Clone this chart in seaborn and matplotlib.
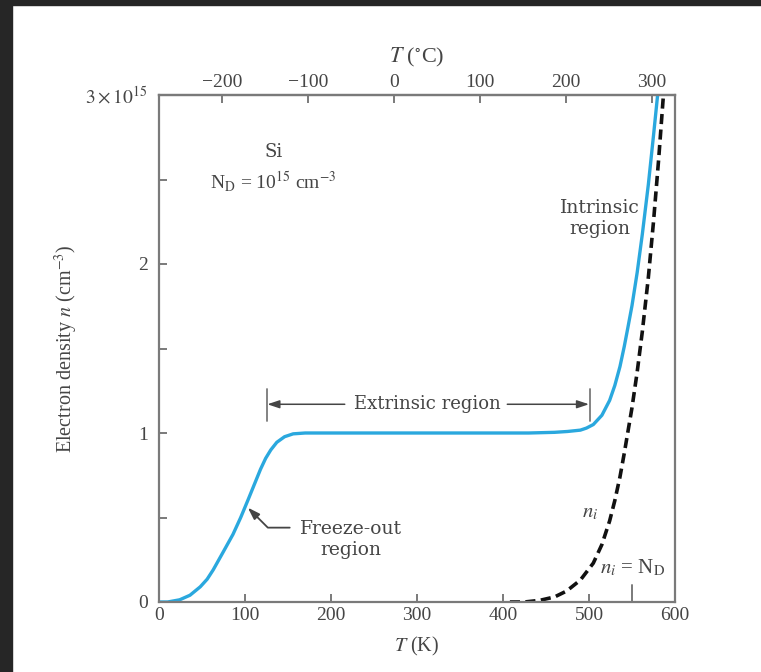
import matplotlib
matplotlib.use("Agg")
import matplotlib.pyplot as plt
from matplotlib.patches import Rectangle
import pandas as pd
import seaborn as sns

# --- data (n in units of 1e15 cm^-3, T in K) ---
t_blue = [0, 10, 24, 36, 48, 56, 63, 74, 80, 86, 95, 104, 112, 118, 124, 130, 137,
          146, 156, 170, 250, 350, 430, 460, 475, 490, 497, 505, 515, 524, 530, 536,
          541, 545, 550, 556, 562, 569, 575, 581, 585]
n_blue = [0.0, 0.0, 0.013, 0.04, 0.09, 0.135, 0.19, 0.29, 0.345, 0.4, 0.5, 0.61,
          0.71, 0.785, 0.85, 0.9, 0.945, 0.978, 0.995, 1.0, 1.0, 1.0, 1.0, 1.004,
          1.009, 1.017, 1.029, 1.05, 1.105, 1.193, 1.281, 1.393, 1.512, 1.618, 1.754,
          1.949, 2.176, 2.47, 2.76, 3.06, 3.25]

t_ni = [408, 425, 443, 460, 474, 490, 505, 515, 524, 530, 536, 541, 545, 550, 556,
        562, 569, 575, 581, 588]
n_ni = [0.0, 0.0, 0.01, 0.03, 0.065, 0.13, 0.23, 0.34, 0.48, 0.6, 0.74, 0.88, 1.0,
        1.15, 1.36, 1.6, 1.92, 2.25, 2.62, 3.1]

k_ticks = [0, 100, 200, 300, 400, 500, 600]
c_ticks = [-200, -100, 0, 100, 200, 300]
y_major = [0, 1, 2, 3]
y_labels = ["0", "1", "2", r"$3\times10^{15}$"]
y_minor = [0.5, 1.5, 2.5]
t_ni_eq_nd = 550  # n_i = N_D marker

blue = "#2aa8de"
text_c = "#454545"
axis_c = "#7a7a7a"
note_font = ["DejaVu Serif"]

sns.set_theme(style="ticks")
plt.rcParams["font.family"] = ["Liberation Serif", "DejaVu Serif"]
plt.rcParams["mathtext.fontset"] = "stix"

fig = plt.figure(figsize=(7.61, 6.72), dpi=100)
fig.patch.set_facecolor("white")
# dark frame seen at the edge of the screenshot
fig.patches.append(Rectangle((0, 0), 12 / 761, 1, transform=fig.transFigure,
                             color="#262626", zorder=-1))
fig.patches.append(Rectangle((0, 1 - 5 / 672), 1, 5 / 672, transform=fig.transFigure,
                             color="#262626", zorder=-1))

ax = fig.add_axes([159 / 761, 1 - 602 / 672, 516 / 761, 507 / 672])

df_blue = pd.DataFrame({"T": t_blue, "n": n_blue})
df_ni = pd.DataFrame({"T": t_ni, "n": n_ni})
sns.lineplot(data=df_blue, x="T", y="n", ax=ax, color=blue, lw=2.4, sort=False)
sns.lineplot(data=df_ni, x="T", y="n", ax=ax, color="#111111", lw=2.6, sort=False,
             linestyle=(0, (2.8, 1.5)))

ax.set_xlim(0, 600)
ax.set_ylim(0, 3)
ax.set_xticks(k_ticks)
ax.set_yticks(y_major)
ax.set_yticklabels(y_labels)
ax.set_yticks(y_minor, minor=True)
ax.set_xlabel(r"$T$ (K)", fontsize=14.5, color=text_c, labelpad=8)
ax.set_ylabel(r"Electron density $n$ (cm$^{-3}$)", fontsize=14.5, color=text_c,
              labelpad=4)
ax.tick_params(axis="both", which="both", direction="in", length=6, width=1.4,
               color=axis_c, labelcolor=text_c, labelsize=14)
ax.tick_params(axis="y", pad=8)
for s in ax.spines.values():
    s.set_color(axis_c)
    s.set_linewidth(1.6)

top = ax.secondary_xaxis("top", functions=(lambda t: t - 273, lambda c: c + 273))
top.set_xticks(c_ticks)
top.set_xticklabels([f"\u2212{abs(c)}" if c < 0 else str(c) for c in c_ticks])
top.tick_params(direction="in", length=6, width=1.4, color=axis_c,
                labelcolor=text_c, labelsize=14, pad=3)
top.set_xlabel(r"$T$ ($^{\circ}$C)", fontsize=16, color=text_c, labelpad=8)
top.spines["top"].set_color(axis_c)
top.spines["top"].set_linewidth(1.6)

# n_i = N_D marker tick
ax.plot([t_ni_eq_nd, t_ni_eq_nd], [0, 0.1], color=axis_c, lw=1.4)

# annotations
ax.text(133, 2.66, "Si", ha="center", va="center", fontsize=13, color=text_c,
        family=note_font)
ax.text(133, 2.49, r"N$_{\rm D}$ = 10$^{15}$ cm$^{-3}$", ha="center", va="center",
        fontsize=14, color=text_c)

ax.text(513, 2.27, "Intrinsic\nregion", ha="center", va="center", fontsize=13.5,
        color=text_c, linespacing=1.2, family=note_font)

ax.text(312, 1.17, "Extrinsic region", ha="center", va="center", fontsize=13,
        color=text_c, family=note_font)
arrow_kw = dict(arrowstyle="-|>,head_length=0.6,head_width=0.2", color=text_c, lw=1.1,
                shrinkA=0, shrinkB=0)
ax.annotate("", xy=(126, 1.17), xytext=(216, 1.17), arrowprops=arrow_kw)
ax.annotate("", xy=(500, 1.17), xytext=(405, 1.17), arrowprops=arrow_kw)
ax.plot([125, 125], [1.07, 1.26], color=axis_c, lw=1.3)
ax.plot([501, 501], [1.07, 1.26], color=axis_c, lw=1.3)

ax.text(223, 0.37, "Freeze-out\nregion", ha="center", va="center", fontsize=13.5,
        color=text_c, linespacing=1.25, family=note_font)
ax.annotate("", xy=(101, 0.57), xytext=(152, 0.44),
            arrowprops=dict(arrowstyle="-|>,head_length=0.6,head_width=0.2",
                            color=text_c, lw=1.3, shrinkA=0, shrinkB=2,
                            connectionstyle="angle,angleA=0,angleB=-45,rad=0"))

ax.text(501, 0.53, r"$n_i$", ha="center", va="center", fontsize=15, color=text_c)
ax.text(513, 0.2, r"$n_i$ = N$_{\rm D}$", ha="left", va="center", fontsize=15,
        color=text_c)

fig.savefig("out.png", dpi=100)
